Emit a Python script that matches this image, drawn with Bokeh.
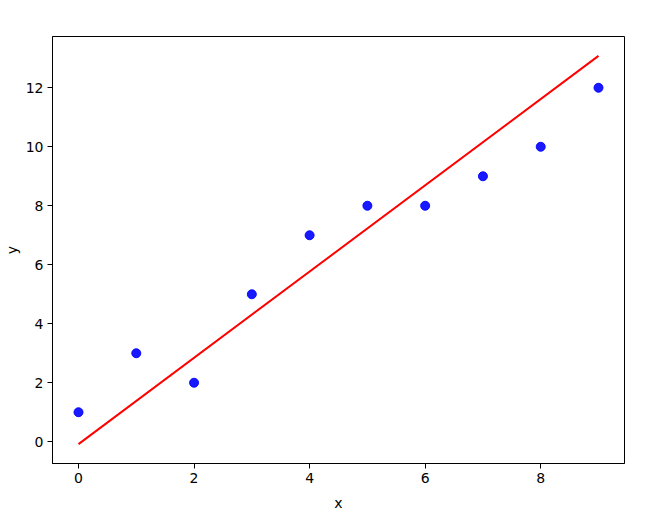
from bokeh.plotting import figure
from bokeh.models import Range1d, FixedTicker
from bokeh.embed import file_html
from bokeh.resources import INLINE

xs = [0, 1, 2, 3, 4, 5, 6, 7, 8, 9]
ys = [1, 3, 2, 5, 7, 8, 8, 9, 10, 12]
line_x = [0, 9]
line_y = [-0.08, 13.08]
x_ticks = [0, 2, 4, 6, 8]
y_ticks = [0, 2, 4, 6, 8, 10, 12]

p = figure(output_backend="svg", toolbar_location=None,
           frame_width=572, frame_height=427,
           min_border_left=51, min_border_right=31,
           min_border_top=36, min_border_bottom=47,
           x_range=Range1d(-0.45, 9.45), y_range=Range1d(-0.738, 13.738))
p.border_fill_color = "white"
p.background_fill_color = "white"
p.outline_line_color = "black"
p.outline_line_width = 1
p.grid.visible = False

p.line(line_x, line_y, line_color="red", line_width=2)
p.scatter(xs, ys, size=9, fill_color="blue", line_color="blue", fill_alpha=0.9, line_alpha=0.9)

font = "DejaVu Sans"
for ax, lab in ((p.xaxis, "x"), (p.yaxis, "y")):
    ax.axis_label = lab
    ax.axis_label_text_font = font
    ax.axis_label_text_font_size = "14px"
    ax.axis_label_text_font_style = "normal"
    ax.axis_label_text_color = "black"
    ax.major_label_text_font = font
    ax.major_label_text_font_size = "14px"
    ax.major_label_text_color = "black"
    ax.axis_line_color = "black"
    ax.major_tick_line_color = "black"
    ax.major_tick_in = 0
    ax.major_tick_out = 5
    ax.minor_tick_line_color = None
    ax.major_label_standoff = 4
p.xaxis.ticker = FixedTicker(ticks=x_ticks)
p.yaxis.ticker = FixedTicker(ticks=y_ticks)
p.xaxis.axis_label_standoff = 9
p.yaxis.axis_label_standoff = 3

open("out.html", "w").write(file_html(p, INLINE))
